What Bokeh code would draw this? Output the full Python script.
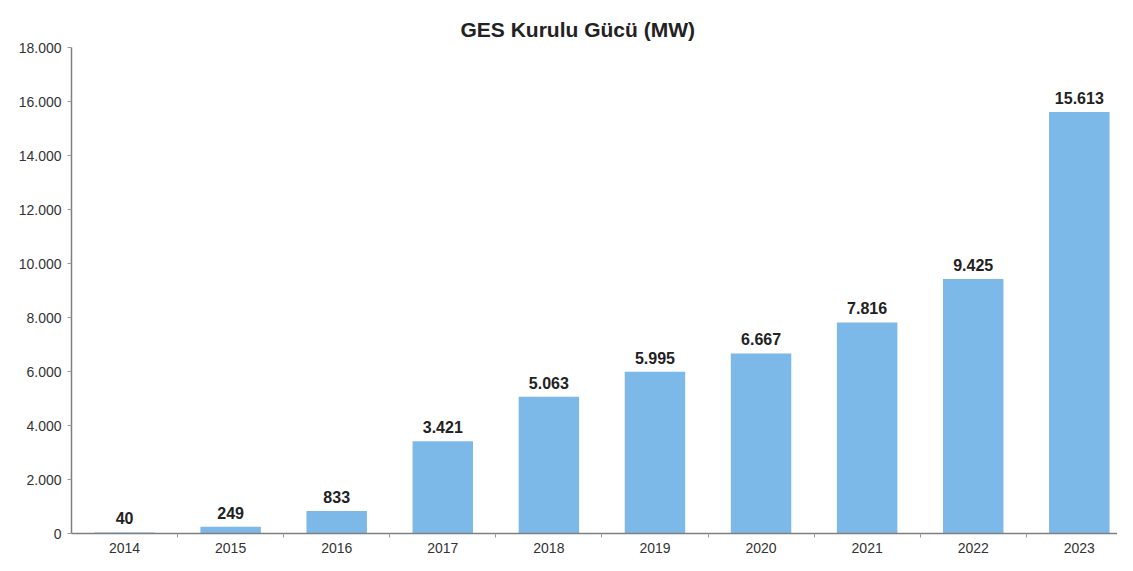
from bokeh.plotting import figure
from bokeh.models import ColumnDataSource, Range1d, FixedTicker, LinearAxis
from bokeh.embed import file_html
from bokeh.resources import INLINE
from bokeh.core.properties import value

# ---- data ----
years = ["2014", "2015", "2016", "2017", "2018", "2019", "2020", "2021", "2022", "2023"]
capacity_mw = [40, 249, 833, 3421, 5063, 5995, 6667, 7816, 9425, 15613]
y_ticks = [0, 2000, 4000, 6000, 8000, 10000, 12000, 14000, 16000, 18000]
y_tick_labels = ["0", "2.000", "4.000", "6.000", "8.000", "10.000", "12.000", "14.000", "16.000", "18.000"]
title_text = "GES Kurulu Gücü (MW)"

FONT = "Liberation Sans"

idx = list(range(len(years)))
labels = [f"{v:,}".replace(",", ".") for v in capacity_mw]
src = ColumnDataSource(dict(x=idx, top=capacity_mw, lab=labels))

p = figure(width=1117, height=555, output_backend="svg", toolbar_location=None,
           x_range=Range1d(-0.5, 9.36), y_range=Range1d(0, 18000),
           x_axis_location=None, y_axis_location=None,
           min_border_left=71, min_border_right=0, min_border_top=47, min_border_bottom=18,
           title=title_text)
p.title.align = "left"
p.title.vertical_align = "top"
p.title.offset = 389
p.title.standoff = 10
p.title.text_font = FONT
p.title.text_font_style = "bold"
p.title.text_font_size = "21px"
p.title.text_color = "#222222"

p.outline_line_color = None
p.xgrid.visible = False
p.ygrid.visible = False
p.background_fill_color = "white"
p.border_fill_color = "white"

p.vbar(x="x", top="top", width=0.57, source=src, fill_color="#7cb8e8", line_color=None)

p.text(x="x", y="top", text="lab", source=src, text_align="center", text_baseline="bottom",
       y_offset=-8, text_font=value(FONT), text_font_style="bold", text_font_size="16px",
       text_color="#222222")

# x axis
xa = LinearAxis(ticker=FixedTicker(ticks=idx, minor_ticks=[i + 0.5 for i in idx]))
xa.major_label_overrides = {i: y for i, y in zip(idx, years)}
xa.axis_line_color = "#7f7f7f"
xa.axis_line_width = 1.5
xa.major_tick_line_color = None
xa.major_tick_out = 0
xa.major_tick_in = 0
xa.minor_tick_line_color = "#9a9a9a"
xa.minor_tick_out = 4
xa.minor_tick_in = 0
xa.major_label_standoff = 5
xa.major_label_text_font = FONT
xa.major_label_text_font_size = "14px"
xa.major_label_text_color = "#333333"
p.add_layout(xa, "below")

# y axis
ya = LinearAxis(ticker=FixedTicker(ticks=y_ticks))
ya.major_label_overrides = {t: l for t, l in zip(y_ticks, y_tick_labels)}
ya.axis_line_color = "#7f7f7f"
ya.axis_line_width = 1.5
ya.major_tick_line_color = "#9a9a9a"
ya.major_tick_out = 4
ya.major_tick_in = 0
ya.minor_tick_line_color = None
ya.major_label_standoff = 6
ya.major_label_text_font = FONT
ya.major_label_text_font_size = "14px"
ya.major_label_text_color = "#333333"
p.add_layout(ya, "left")

open("out.html", "w").write(file_html(p, INLINE))
